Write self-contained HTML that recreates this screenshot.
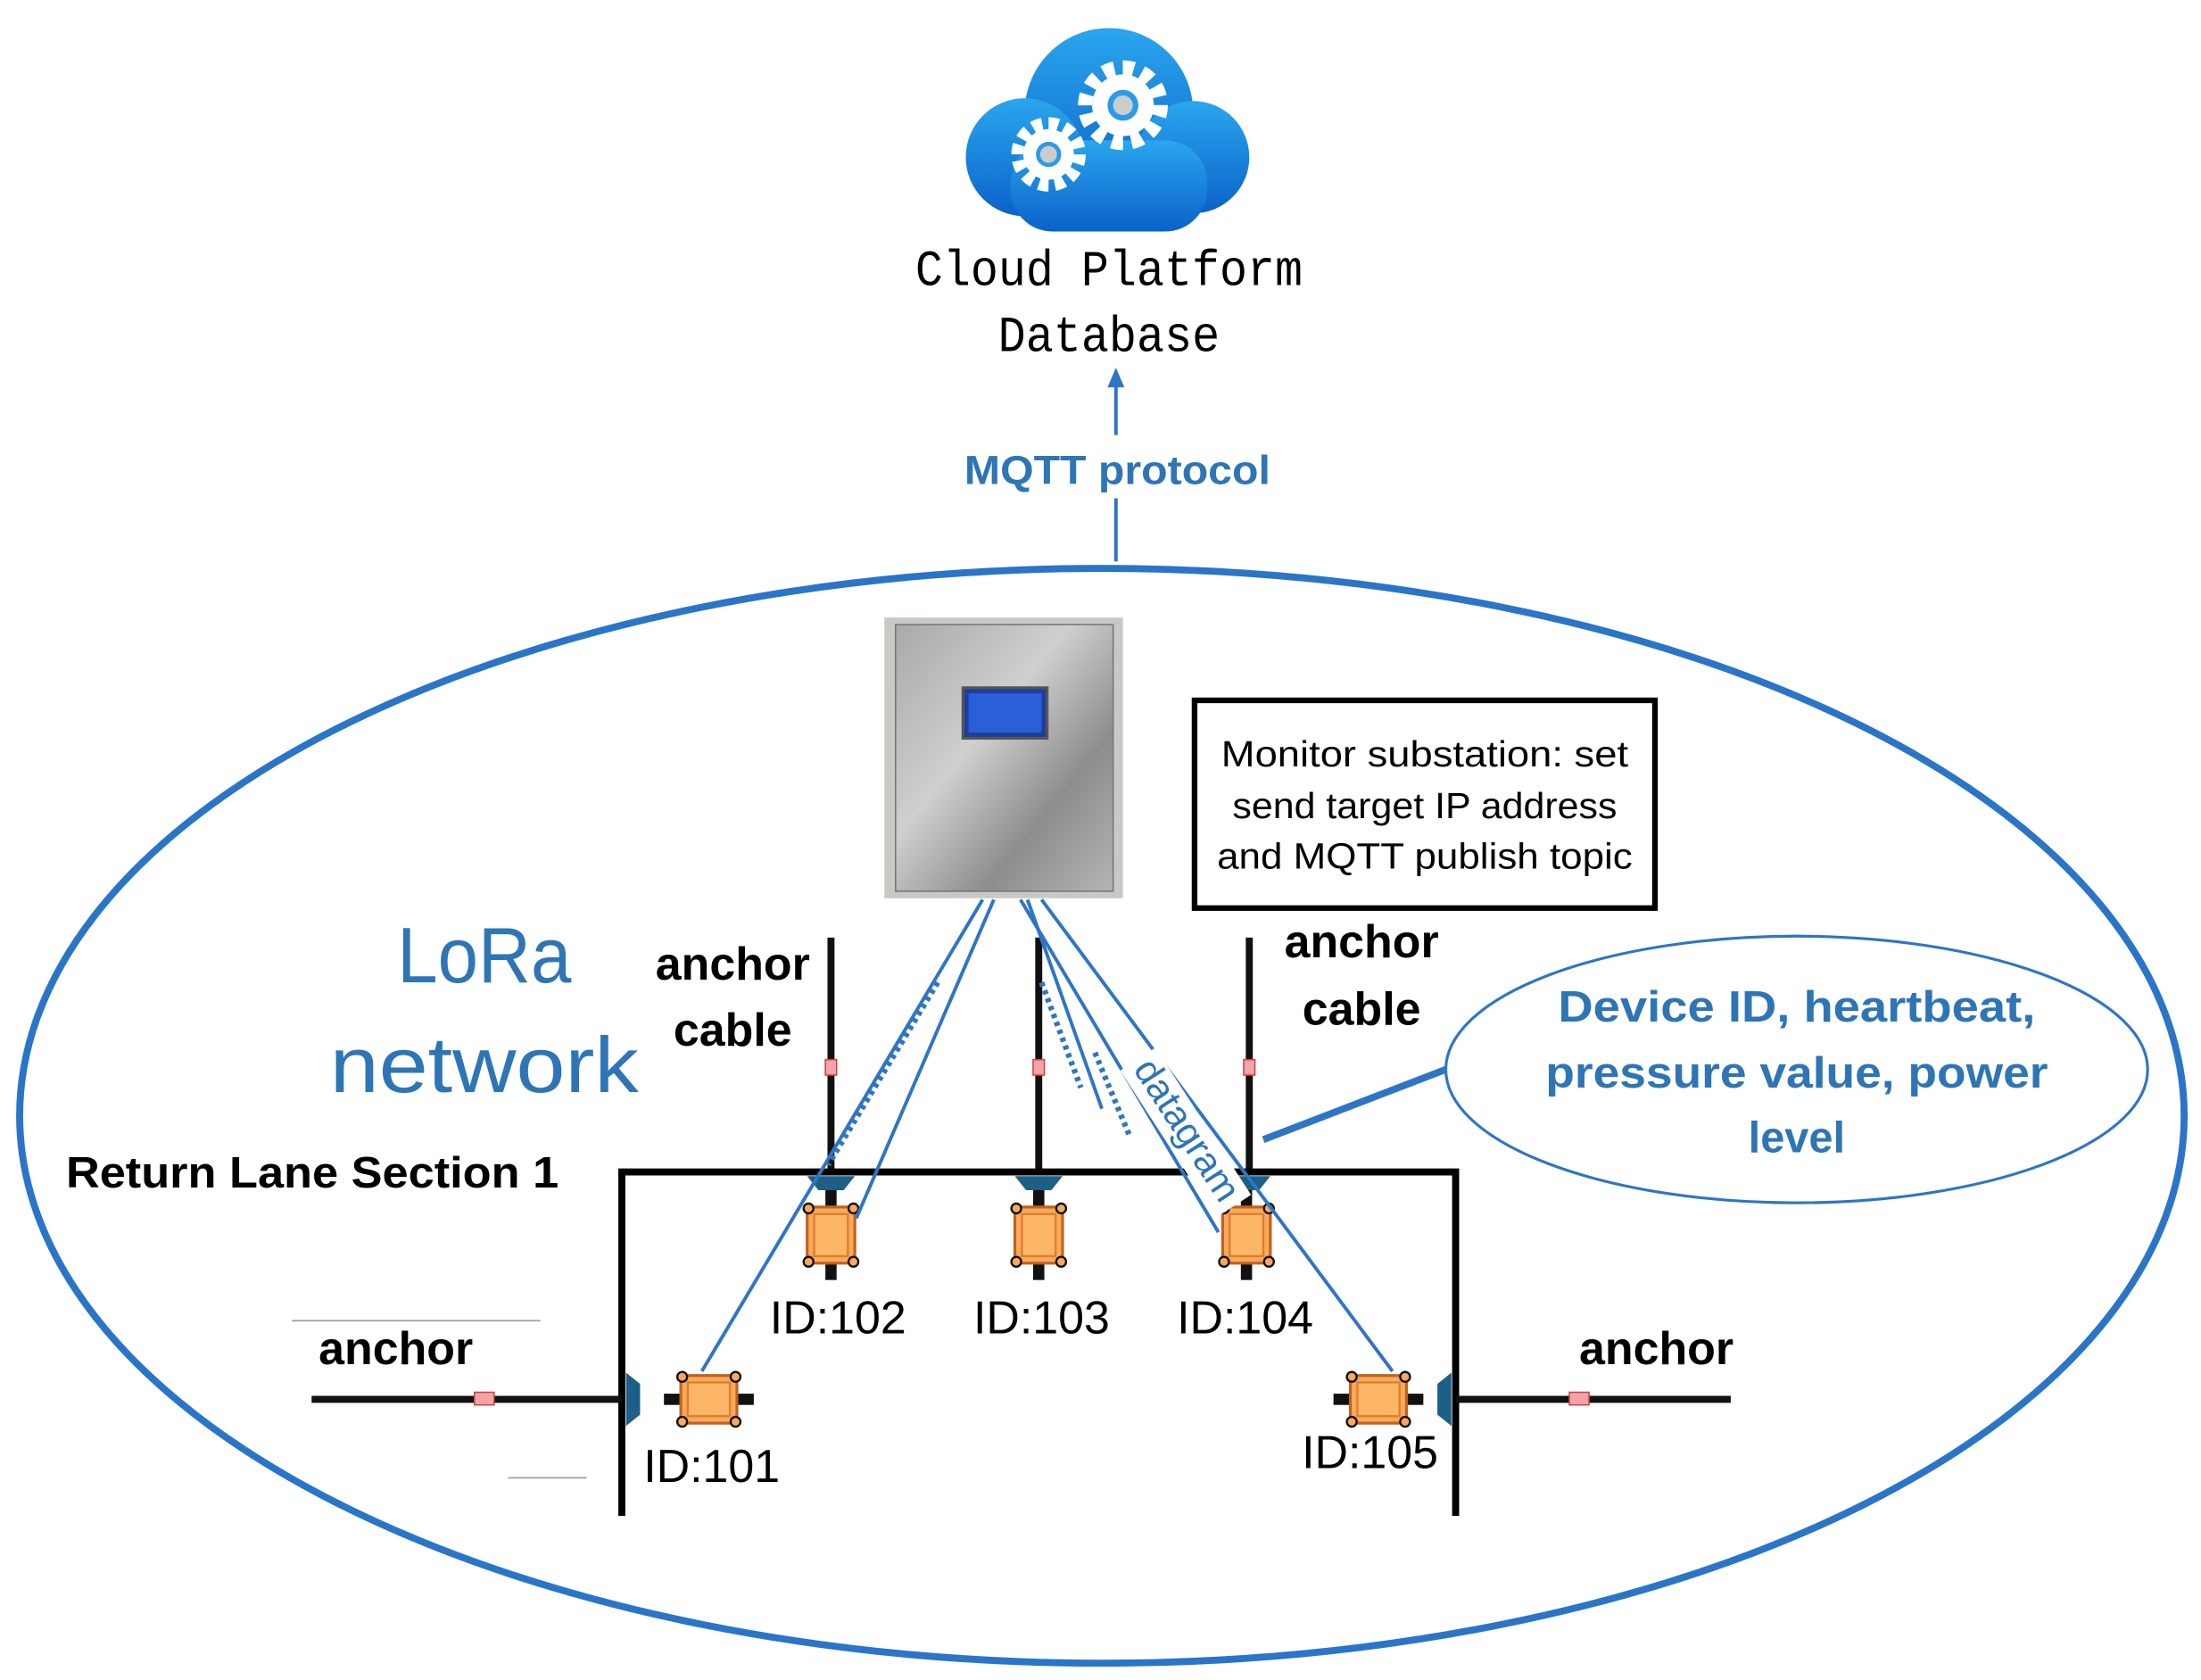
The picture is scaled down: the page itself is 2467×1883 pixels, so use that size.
<!DOCTYPE html>
<html><head><meta charset="utf-8"><style>html,body{margin:0;padding:0;background:#fff}svg{display:block}</style></head>
<body>
<svg width="2467" height="1883" viewBox="0 0 1568 1197" preserveAspectRatio="none" xmlns="http://www.w3.org/2000/svg">
<defs>
<linearGradient id="cg" x1="0" y1="0" x2="0" y2="1"><stop offset="0" stop-color="#2aa6ee"/><stop offset="1" stop-color="#0b62c9"/></linearGradient>
<linearGradient id="steel" x1="0" y1="0" x2="1" y2="1"><stop offset="0" stop-color="#a9aaa8"/><stop offset="0.4" stop-color="#cfd0cd"/><stop offset="0.7" stop-color="#8d8e8b"/><stop offset="1" stop-color="#b4b5b2"/></linearGradient>
<g id="sens">
<rect x="-4" y="-32" width="8" height="14" fill="#111"/>
<rect x="-4" y="18" width="8" height="14" fill="#111"/>
<rect x="-17" y="-20" width="34" height="40" rx="3" fill="#f7a95c" stroke="#c2611e" stroke-width="2"/>
<rect x="-12" y="-15" width="24" height="30" fill="#fdb667" stroke="#e07e2c" stroke-width="1.5"/>
<circle cx="-16" cy="-19" r="3.5" fill="#f7a95c" stroke="#111" stroke-width="1.5"/><circle cx="16" cy="-19" r="3.5" fill="#f7a95c" stroke="#111" stroke-width="1.5"/>
<circle cx="-16" cy="19" r="3.5" fill="#f7a95c" stroke="#111" stroke-width="1.5"/><circle cx="16" cy="19" r="3.5" fill="#f7a95c" stroke="#111" stroke-width="1.5"/>
</g>
</defs>
<!-- cloud -->
<g fill="url(#cg)">
<circle cx="790" cy="80" r="60"/><circle cx="730" cy="112" r="42"/><circle cx="850" cy="112" r="40"/>
<rect x="720" y="100" width="140" height="65" rx="30"/>
</g>
<g fill="#fff">
<circle cx="800" cy="75" r="22"/><circle cx="747" cy="110" r="18"/>
</g>
<circle cx="800" cy="75" r="27" fill="none" stroke="#fff" stroke-width="10" stroke-dasharray="8,6.1"/>
<circle cx="747" cy="110" r="22" fill="none" stroke="#fff" stroke-width="9" stroke-dasharray="7,4.5"/>
<circle cx="800" cy="75" r="11" fill="#2b9be8"/><circle cx="800" cy="75" r="7" fill="#ccc"/>
<circle cx="747" cy="110" r="9" fill="#2b9be8"/><circle cx="747" cy="110" r="6" fill="#ccc"/>
<g font-family="Liberation Mono, monospace" font-size="36" text-anchor="middle" fill="#000">
<text x="790" y="203" textLength="276" lengthAdjust="spacingAndGlyphs">Cloud Platform</text><text x="790" y="250" textLength="158" lengthAdjust="spacingAndGlyphs">Database</text>
</g>
<!-- arrow -->
<line x1="795" y1="400" x2="795" y2="355" stroke="#2e75c6" stroke-width="2.5"/>
<line x1="795" y1="310" x2="795" y2="272" stroke="#2e75c6" stroke-width="2.5"/>
<polygon points="795,262 789,276 801,276" fill="#2e75c6"/>
<text x="796" y="345" font-family="Liberation Sans, sans-serif" font-weight="bold" font-size="29" fill="#2e75b6" text-anchor="middle" textLength="218" lengthAdjust="spacingAndGlyphs">MQTT protocol</text>
<!-- ellipse -->
<ellipse cx="785" cy="795" rx="771" ry="390" fill="none" stroke="#2a75c8" stroke-width="5"/>
<!-- substation -->
<rect x="630" y="440" width="170" height="200" fill="#c9c8c4"/>
<rect x="638" y="445" width="155" height="190" fill="url(#steel)" stroke="#777" stroke-width="1"/>
<rect x="686" y="490" width="60" height="36" fill="#1f3d9a" stroke="#555" stroke-width="2"/>
<rect x="690" y="494" width="52" height="28" fill="#2b5fd8"/>
<!-- text box -->
<rect x="851" y="499" width="328" height="148" fill="#fff" stroke="#000" stroke-width="4"/>
<g font-family="Liberation Sans, sans-serif" font-size="26" text-anchor="middle" fill="#000">
<text x="1015" y="546" textLength="290" lengthAdjust="spacingAndGlyphs">Monitor substation: set</text>
<text x="1015" y="583" textLength="274" lengthAdjust="spacingAndGlyphs">send target IP address</text>
<text x="1015" y="619" textLength="296" lengthAdjust="spacingAndGlyphs">and MQTT publish topic</text>
</g>
<!-- LoRa -->
<g font-family="Liberation Sans, sans-serif" font-size="56" fill="#2e75b6" text-anchor="middle">
<text x="345" y="700" textLength="124" lengthAdjust="spacingAndGlyphs">LoRa</text><text x="345" y="778" textLength="220" lengthAdjust="spacingAndGlyphs">network</text>
</g>
<g font-family="Liberation Sans, sans-serif" font-weight="bold" font-size="33" fill="#000" text-anchor="middle">
<text x="522" y="698">anchor</text><text x="522" y="745">cable</text>
<text x="970" y="682">anchor</text><text x="970" y="730">cable</text>
<text x="282" y="972">anchor</text><text x="1180" y="972">anchor</text>
</g>
<text x="47" y="846" font-family="Liberation Sans, sans-serif" font-weight="bold" font-size="31" fill="#000" textLength="351" lengthAdjust="spacingAndGlyphs">Return Lane Section 1</text>
<!-- vertical cables -->
<g stroke="#111" stroke-width="5">
<line x1="592" y1="668" x2="592" y2="835"/><line x1="740" y1="668" x2="740" y2="835"/><line x1="890" y1="668" x2="890" y2="835"/>
</g>
<g fill="#f4a3a8" stroke="#c44" stroke-width="1">
<rect x="588" y="755" width="8" height="11"/><rect x="736" y="755" width="8" height="11"/><rect x="886" y="755" width="8" height="11"/>
</g>
<!-- frame -->
<g stroke="#000" stroke-width="5" fill="none">
<polyline points="443,1080 443,835 1037,835 1037,1080"/>
</g>
<!-- horizontal anchors -->
<g stroke="#111" stroke-width="5">
<line x1="222" y1="997" x2="443" y2="997"/><line x1="1037" y1="997" x2="1233" y2="997"/>
</g>
<rect x="338" y="992" width="14" height="9" fill="#f4a3a8" stroke="#c44"/>
<rect x="1118" y="992" width="14" height="9" fill="#f4a3a8" stroke="#c44"/>
<g stroke="#999" stroke-width="1"><line x1="208" y1="941" x2="385" y2="941"/><line x1="362" y1="1053" x2="418" y2="1053"/></g>
<!-- mounts -->
<g fill="#1d5f86">
<path d="M575,838 h34 l-8,10 h-18z"/><path d="M723,838 h34 l-8,10 h-18z"/><path d="M871,838 h34 l-8,10 h-18z"/>
<path d="M446,978 v38 l10,-8 v-22z"/><path d="M1034,978 v38 l-10,-8 v-22z"/>
</g>
<!-- sensors -->
<use href="#sens" x="592" y="880"/><use href="#sens" x="740" y="880"/><use href="#sens" x="888" y="880"/>
<use href="#sens" transform="translate(505,997) rotate(90)"/><use href="#sens" transform="translate(982,997) rotate(90)"/>
<!-- blue lines -->
<g stroke="#2e75c6" stroke-width="2.5" fill="none">
<line x1="700" y1="641" x2="500" y2="977"/>
<line x1="708" y1="641" x2="610" y2="868"/>
<line x1="727" y1="641" x2="868" y2="878"/>
<line x1="742" y1="641" x2="992" y2="977"/>
<line x1="732" y1="641" x2="785" y2="790"/>
<line x1="668" y1="700" x2="590" y2="830" stroke-dasharray="3,3" stroke-width="4"/>
<line x1="742" y1="700" x2="770" y2="775" stroke-dasharray="3,3" stroke-width="4"/>
<line x1="780" y1="750" x2="805" y2="810" stroke-dasharray="3,3" stroke-width="4"/>
</g>
<line x1="1030" y1="762" x2="900" y2="812" stroke="#2e75c6" stroke-width="5"/>
<g transform="translate(822,752) rotate(57)">
<rect x="-4" y="-4" width="125" height="30" fill="#fff"/>
<text x="0" y="18" font-family="Liberation Sans, sans-serif" font-size="27" fill="#2e75b6" textLength="115" lengthAdjust="spacingAndGlyphs">datagram</text>
</g>
<!-- callout -->
<ellipse cx="1280" cy="762" rx="250" ry="95" fill="#fff" stroke="#2e75c6" stroke-width="2"/>
<g font-family="Liberation Sans, sans-serif" font-weight="bold" font-size="31" fill="#2e75b6" text-anchor="middle">
<text x="1280" y="728" textLength="340" lengthAdjust="spacingAndGlyphs">Device ID, heartbeat,</text><text x="1280" y="775" textLength="358" lengthAdjust="spacingAndGlyphs">pressure value, power</text><text x="1280" y="821">level</text>
</g>
<!-- IDs -->
<g font-family="Liberation Sans, sans-serif" font-size="33" fill="#000" text-anchor="middle">
<text x="597" y="950">ID:102</text><text x="742" y="950">ID:103</text><text x="887" y="950">ID:104</text>
<text x="507" y="1056">ID:101</text><text x="976" y="1046">ID:105</text>
</g>
</svg>
</body></html>
